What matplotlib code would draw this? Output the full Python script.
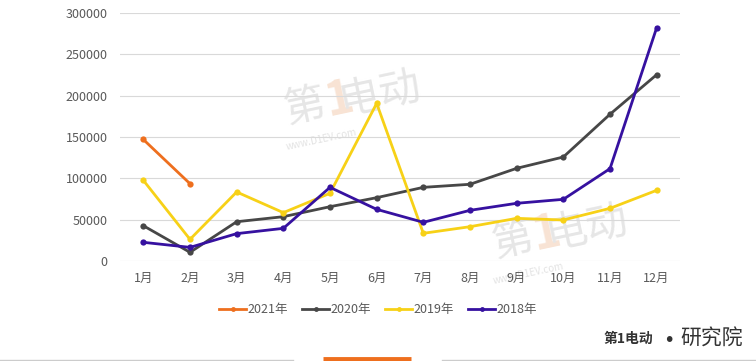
import matplotlib
matplotlib.use("Agg")
import matplotlib.pyplot as plt
from matplotlib.lines import Line2D

plt.rcParams['font.family'] = ['Noto Sans CJK SC', 'DejaVu Sans']

months = ["1月", "2月", "3月", "4月", "5月", "6月", "7月", "8月", "9月", "10月", "11月", "12月"]
s2021 = [147000, 93500]
s2020 = [42700, 10500, 47500, 53600, 65700, 76600, 89100, 92800, 112100, 125800, 177500, 225400]
s2019 = [97600, 26200, 83500, 58500, 81900, 190700, 33500, 41500, 51600, 49600, 63700, 85500]
s2018 = [22600, 16500, 33100, 39500, 89100, 62500, 46800, 61300, 69800, 74600, 111700, 282200]
yticks = [0, 50000, 100000, 150000, 200000, 250000, 300000]

series = [("2021年", s2021, "#EE6F1E"),
          ("2020年", s2020, "#474747"),
          ("2019年", s2019, "#F7D117"),
          ("2018年", s2018, "#3611A0")]

W, H = 756, 361
fig = plt.figure(figsize=(W / 100, H / 100), dpi=100)
ax = fig.add_axes([120 / W, (H - 261) / H, 560 / W, 248 / H])

# watermarks
for (wx, wy) in [(0.33, 0.62), (0.70, 0.08)]:
    ax.text(wx, wy, "第", transform=ax.transAxes, fontsize=30, color="#e6e6e6",
            rotation=12, ha="center", va="center", zorder=0)
    ax.text(wx + 0.06, wy + 0.03, "1", transform=ax.transAxes, fontsize=34, color="#f8e3d4",
            rotation=12, ha="center", va="center", fontweight="bold", zorder=0)
    ax.text(wx + 0.135, wy + 0.05, "电动", transform=ax.transAxes, fontsize=30, color="#e6e6e6",
            rotation=12, ha="center", va="center", zorder=0)
    ax.text(wx + 0.03, wy - 0.13, "www.D1EV.com", transform=ax.transAxes, fontsize=7,
            color="#e3e3e3", rotation=12, ha="center", va="center", style="italic", zorder=0)

x = list(range(len(months)))
handles = []
for name, vals, col in series:
    ax.plot(x[:len(vals)], vals, color=col, lw=2.0, marker="o", ms=4.5,
            markeredgewidth=0, zorder=3)
    handles.append(Line2D([0], [0], color=col, lw=2.0, marker="o", ms=3.5,
                          markeredgewidth=0, label=name))

ax.set_xlim(-0.5, 11.5)
ax.set_ylim(0, 300000)
ax.set_yticks(yticks)
ax.set_yticklabels([str(v) for v in yticks])
ax.set_xticks(x)
ax.set_xticklabels(months)
ax.grid(axis="y", color="#d9d9d9", lw=0.8)
ax.set_axisbelow(True)
for sp in ax.spines.values():
    sp.set_visible(False)
ax.tick_params(length=0, colors="#595959", labelsize=9)
ax.tick_params(axis="y", pad=9)
ax.tick_params(axis="x", pad=8)

fig.legend(handles=handles, loc="center", bbox_to_anchor=(378 / W, (H - 310) / H),
           ncol=4, frameon=False, fontsize=9, handlelength=2.2, handletextpad=0.1,
           columnspacing=1.1, labelcolor="#595959")

# bottom logo
fig.text(712 / W, (H - 339) / H, "研究院", fontsize=15, color="#333333",
         ha="center", va="center")
fig.text(669 / W, (H - 340) / H, "•", fontsize=14, color="#333333",
         ha="center", va="center", family="DejaVu Sans")
fig.text(628 / W, (H - 339) / H, "第1电动", fontsize=10, color="#333333",
         ha="center", va="center", fontweight="bold", style="italic")

# bottom decoration lines
fig.add_artist(Line2D([0, 293 / W], [1 / H, 1 / H], color="#cccccc", lw=1))
fig.add_artist(Line2D([442 / W, 1], [1 / H, 1 / H], color="#cccccc", lw=1))
fig.add_artist(Line2D([323 / W, 411 / W], [2 / H, 2 / H], color="#EE6F1E", lw=3.5,
                      solid_capstyle="butt"))

fig.savefig("out.png", dpi=100)
